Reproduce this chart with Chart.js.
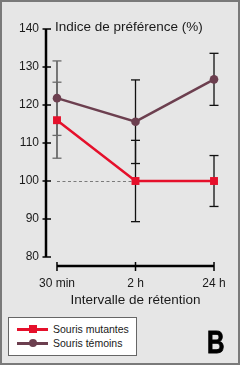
<!DOCTYPE html>
<html><head><meta charset="utf-8">
<script src="https://cdn.jsdelivr.net/npm/chart.js@4/dist/chart.umd.min.js"></script>
<style>
html,body{margin:0;padding:0;background:#e6e6e6;}
#wrap{position:relative;width:240px;height:365px;background:#e6e6e6;overflow:hidden;font-family:"Liberation Sans",Arial,sans-serif;}
#frame{position:absolute;left:0;top:0;width:240px;height:365px;box-sizing:border-box;border:2px solid #7a7a7a;pointer-events:none;}
canvas{position:absolute;left:0;top:0;}
#legend{position:absolute;left:8px;top:317px;width:129px;height:39px;box-sizing:border-box;background:#fff;border:1px solid #666;}
.item{position:absolute;left:8px;height:12px;display:flex;align-items:center;}
.mk{position:relative;width:31px;height:12px;margin-right:5px;}
.mk .ln{position:absolute;left:0;right:0;top:5px;height:2.5px;}
.mk .sq{position:absolute;left:11.5px;top:2px;width:8px;height:8px;}
.mk .ci{position:absolute;left:11.5px;top:2px;width:8px;height:8px;border-radius:50%;}
.lt{font-size:10.5px;color:#1a1a1a;white-space:nowrap;}
#bigB{position:absolute;left:207px;top:325px;font-family:"Liberation Sans",Arial,sans-serif;font-weight:bold;font-size:31px;line-height:36px;color:#000;transform:scaleX(0.78);transform-origin:left top;-webkit-text-stroke:0.8px #000;}
</style>
</head><body>
<div id="wrap">
<canvas id="c" width="240" height="365"></canvas>
<div id="legend">
  <div class="item" style="top:5px"><div class="mk"><div class="ln" style="background:#e5102b"></div><div class="sq" style="background:#e5102b"></div></div><span class="lt" id="l0"></span></div>
  <div class="item" style="top:19px"><div class="mk"><div class="ln" style="background:#6c3f4f"></div><div class="ci" style="background:#6c3f4f"></div></div><span class="lt" id="l1"></span></div>
</div>
<div id="bigB">B</div>
<div id="frame"></div>
</div>
<script>
// ---- data ----
const categories = ["30 min", "2 h", "24 h"];
const seriesNames = ["Souris mutantes", "Souris témoins"];
const mutantValues = [116, 100, 100];
const mutantErrors = [10, 10.7, 6.7];
const controlValues = [121.8, 115.6, 126.75];
const controlErrors = [9.8, 11, 6.85];
const yTickValues = [80, 90, 100, 110, 120, 130, 140];
const baselineValue = 100;
const yTitle = "Indice de préférence (%)";
const xTitle = "Intervalle de rétention";

document.getElementById('l0').textContent = seriesNames[0];
document.getElementById('l1').textContent = seriesNames[1];

const RED = '#e5102b', BROWN = '#6c3f4f';
const FONT = '"Liberation Sans", Arial, sans-serif';

function seg(ctx, x1, y1, x2, y2){ctx.beginPath();ctx.moveTo(x1,y1);ctx.lineTo(x2,y2);ctx.stroke();}

const decor = {
  id: 'decor',
  beforeDatasetsDraw(chart){
    const {ctx, scales:{x, y}, chartArea} = chart;
    ctx.save();
    const yTop = y.getPixelForValue(yTickValues[yTickValues.length-1]);
    const yBot = y.getPixelForValue(yTickValues[0]);
    const ax = chartArea.left;
    ctx.strokeStyle = '#000';
    ctx.lineCap = 'butt';
    ctx.lineWidth = 2.5;
    seg(ctx, ax, yTop, ax, yBot);
    ctx.lineWidth = 1.5;
    yTickValues.forEach(v => { const py = y.getPixelForValue(v); seg(ctx, ax-3.5, py, ax+5, py); });
    const xa = yBot + 9;
    const x0 = x.getPixelForValue(0), x2 = x.getPixelForValue(categories.length-1);
    ctx.lineWidth = 2.5;
    seg(ctx, x0, xa, x2, xa);
    ctx.lineWidth = 1.5;
    categories.forEach((c,i) => { const px = x.getPixelForValue(i); seg(ctx, px, xa-4, px, xa+5); });
    ctx.strokeStyle = '#7a7a7a';
    ctx.lineWidth = 1;
    ctx.setLineDash([3,2.5]);
    const by = Math.round(y.getPixelForValue(baselineValue)) + 0.5;
    seg(ctx, x.getPixelForValue(0), by, x.getPixelForValue(1), by);
    ctx.setLineDash([]);
    const series = [[controlValues, controlErrors],[mutantValues, mutantErrors]];
    series.forEach(([vals, errs]) => {
      vals.forEach((v, i) => {
        const px = x.getPixelForValue(i);
        const t = y.getPixelForValue(v + errs[i]);
        const b = y.getPixelForValue(v - errs[i]);
        ctx.strokeStyle = i === 0 ? '#6a6a6a' : '#111';
        ctx.lineWidth = i === 0 ? 1.8 : 1.3;
        seg(ctx, px, t, px, b);
        ctx.lineWidth = 1.3;
        seg(ctx, px-4.5, t, px+4.5, t);
        seg(ctx, px-4.5, b, px+4.5, b);
      });
    });
    ctx.restore();
  },
  afterDraw(chart){
    const {ctx, chartArea, scales:{x}} = chart;
    ctx.save();
    ctx.fillStyle = '#1a1a1a';
    ctx.font = '13.5px ' + FONT;
    ctx.textAlign = 'left';
    ctx.textBaseline = 'alphabetic';
    ctx.fillText(yTitle, chartArea.left + 9, 30.5);
    ctx.textAlign = 'center';
    ctx.fillText(xTitle, (x.getPixelForValue(0) + x.getPixelForValue(categories.length-1))/2, 304);
    ctx.restore();
  }
};

new Chart(document.getElementById('c'), {
  type: 'line',
  data: {
    datasets: [
      {
        label: seriesNames[1],
        data: controlValues.map((v,i) => ({x:i, y:v})),
        borderColor: BROWN, backgroundColor: BROWN,
        borderWidth: 2.5, pointStyle: 'circle', pointRadius: 4.3,
        pointBorderWidth: 0, tension: 0
      },
      {
        label: seriesNames[0],
        data: mutantValues.map((v,i) => ({x:i, y:v})),
        borderColor: RED, backgroundColor: RED,
        borderWidth: 2.5, pointStyle: 'rect', pointRadius: 5.6,
        pointBorderWidth: 0, tension: 0
      }
    ]
  },
  options: {
    responsive: false,
    animation: false,
    devicePixelRatio: 1,
    layout: { padding: { top: 29, right: 15, left: 0, bottom: 0 } },
    plugins: { legend: { display: false }, tooltip: { enabled: false }, title: { display: false } },
    scales: {
      x: {
        type: 'linear', min: -0.14, max: 2.14,
        grid: { display: false, drawTicks: false },
        border: { display: false },
        afterBuildTicks: s => { s.ticks = categories.map((c,i) => ({value:i})); },
        ticks: { callback: v => categories[v], color: '#1a1a1a', font: { family: FONT, size: 12 }, padding: 19, autoSkip: false, maxRotation: 0 },
        afterFit: s => { s.height = 108; s.paddingLeft = 0; s.paddingRight = 0; }
      },
      y: {
        type: 'linear', min: 80, max: 140,
        grid: { display: false, drawTicks: false },
        border: { display: false },
        afterBuildTicks: s => { s.ticks = yTickValues.map(v => ({value:v})); },
        ticks: { color: '#1a1a1a', font: { family: FONT, size: 12 }, padding: 7 },
        afterFit: s => { s.width = 46; s.paddingTop = 0; s.paddingBottom = 0; }
      }
    }
  },
  plugins: [decor]
});
</script>
</body></html>
